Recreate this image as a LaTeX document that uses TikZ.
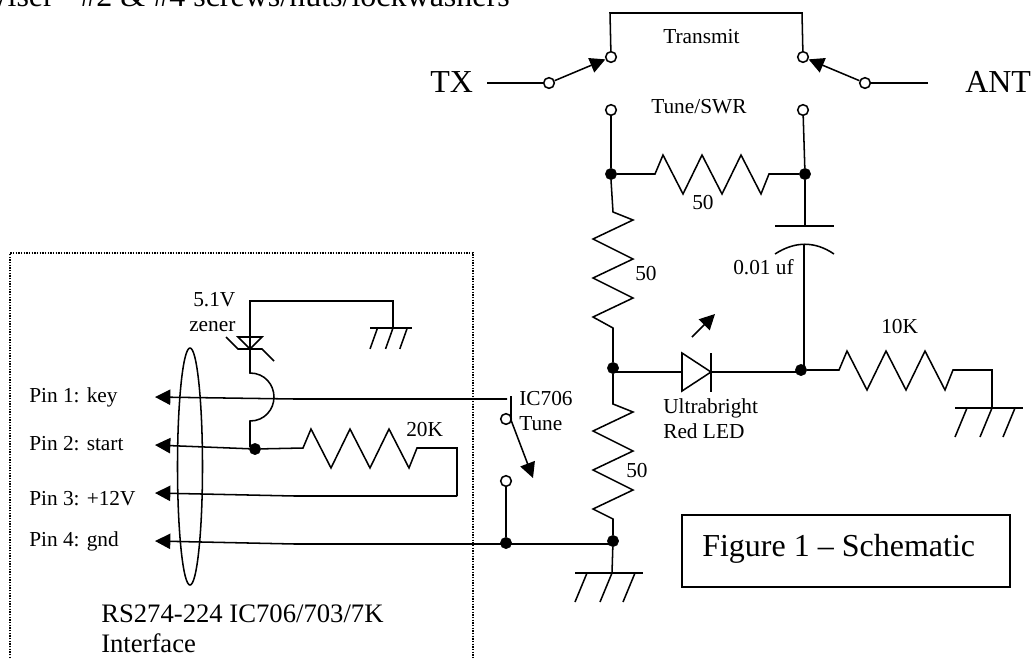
\documentclass[tikz,border=0pt]{standalone}
\usepackage{fontspec}
\setmainfont{Liberation Serif}
\usetikzlibrary{arrows.meta,shapes.geometric}

\tikzset{
    wire/.style={line width=1.15pt},
    smalltext/.style={anchor=base west,inner sep=0pt,font=\fontsize{16}{19}\selectfont},
    midtext/.style={anchor=base west,inner sep=0pt,font=\fontsize{20}{24}\selectfont},
    bigtext/.style={anchor=base west,inner sep=0pt,font=\fontsize{24}{29}\selectfont},
    dot/.style={circle,fill=black,draw=black,inner sep=0pt,minimum size=8.5pt},
    term/.style={circle,fill=white,draw=black,line width=1.15pt,inner sep=0pt,minimum size=8pt},
    tip/.style={-{Triangle[length=11.5pt,width=11.5pt]}},
    resh/.style={to path={-- ++(8,-19) -- ++(20,39) -- ++(19,-39) -- ++(20,39) -- ++(19,-39) -- ++(20,39) -- (\tikztotarget)}},
    resv/.style={to path={-- ++(20,8) -- ++(-40,19) -- ++(40,20) -- ++(-40,19) -- ++(40,20) -- ++(-40,19) -- (\tikztotarget)}},
    gnd/.pic={
        \draw[wire] (-37,0) -- (31,0);
        \draw[wire] (-25,0) -- (-37,29);
        \draw[wire] (0,0) -- (-12,29);
        \draw[wire] (23,0) -- (11,29);
    }
}

\begin{document}
\begin{tikzpicture}[x=0.75pt,y=-0.75pt]
    \useasboundingbox (0,0) rectangle (1031,658);
    % Text cut off at the top of the page
    \node[bigtext,anchor=base east] (parts) at (510,6) {Wiser - \#2 \& \#4 screws/nuts/lockwashers};
    % Antenna switches
    \node[bigtext] (tx) at (430,92) {TX};
    \node[bigtext] (ant) at (965,92) {ANT};
    \node[smalltext] (transmit) at (663,43) {Transmit};
    \node[smalltext] (tune) at (651,113) {Tune/SWR};
    \coordinate (txend) at (487,83);
    \coordinate (antend) at (928,83);
    \coordinate (bridgel) at (610,13);
    \coordinate (bridger) at (802,13);
    \node[term] (txpole) at (549,83) {};
    \node[term] (antpole) at (865,83) {};
    \node[term] (txthrow) at (611,57) {};
    \node[term] (antthrow) at (803,57) {};
    \node[term] (txtune) at (611,110) {};
    \node[term] (anttune) at (803,110) {};
    \draw[wire] (txend) -- (txpole);
    \draw[wire] (antend) -- (antpole);
    \draw[wire,tip] (txpole) -- (txthrow);
    \draw[wire,tip] (antpole) -- (antthrow);
    \draw[wire] (txthrow) -- (bridgel) -- (bridger) -- (antthrow);
    % Bridge resistors
    \node[dot] (jleft) at (611,174) {};
    \node[dot] (jright) at (805,174) {};
    \node[dot] (jmid) at (613,368) {};
    \node[dot] (jcap) at (801,370) {};
    \node[dot] (jgnd) at (613,541) {};
    \node[dot] (jtune) at (506,543) {};
    \coordinate (r1a) at (655,174);
    \coordinate (r1b) at (769,174);
    \coordinate (r2a) at (613,212);
    \coordinate (r2b) at (613,328);
    \coordinate (r3a) at (613,404);
    \coordinate (r3b) at (613,519);
    \draw[wire] (txtune) -- (jleft);
    \draw[wire] (anttune) -- (jright);
    \draw[wire] (jleft) -- (r1a) to[resh] (r1b) -- (jright);
    \draw[wire] (jleft.south) -- (r2a) to[resv] (r2b) -- (jmid);
    \draw[wire] (jmid) -- (r3a) to[resv] (r3b) -- (jgnd);
    \node[smalltext] (fifty1) at (692,209) {50};
    \node[smalltext] (fifty2) at (635,280) {50};
    \node[smalltext] (fifty3) at (626,477) {50};
    % Capacitor
    \coordinate (capt) at (805,226);
    \coordinate (capb) at (804,244);
    \coordinate (capbot) at (804,366);
    \coordinate (captl) at (775,226);
    \coordinate (captr) at (834,226);
    \coordinate (capbl) at (775,254);
    \coordinate (capbr) at (834,254);
    \draw[wire] (jright) -- (capt);
    \draw[wire] (captl) -- (captr);
    \draw[wire] (capbl) .. controls (795,241) and (815,241) .. (capbr);
    \draw[wire] (capb) -- (capbot);
    \node[smalltext] (capval) at (733,274) {0.01 uf};
    % LED
    \coordinate (ledin) at (613,372);
    \coordinate (ledout) at (801,372);
    \coordinate (leda) at (682,372);
    \coordinate (ledk) at (711,372);
    \coordinate (ledt) at (682,353);
    \coordinate (ledb) at (682,391);
    \coordinate (bart) at (711,353);
    \coordinate (barb) at (711,392);
    \coordinate (rays) at (692,337);
    \coordinate (raye) at (715,314);
    \draw[wire] (ledin) -- (leda);
    \draw[wire] (ledt) -- (ledb) -- (ledk) -- cycle;
    \draw[wire] (bart) -- (barb);
    \draw[wire] (ledk) -- (ledout);
    \draw[wire,tip] (rays) -- (raye);
    \node[smalltext] (led1) at (663,413) {Ultrabright};
    \node[smalltext] (led2) at (663,438) {Red LED};
    % 10K to ground
    \coordinate (r4a) at (839,370);
    \coordinate (r4b) at (953,370);
    \coordinate (g1corner) at (992,370);
    \coordinate (g1) at (992,408);
    \draw[wire] (jcap) -- (r4a) to[resh] (r4b) -- (g1corner) -- (g1);
    \pic at (g1) {gnd};
    \node[smalltext] (tenk) at (881,333) {10K};
    % Main ground
    \coordinate (g2) at (612,573);
    \draw[wire] (jgnd) -- (g2);
    \pic at (g2) {gnd};
    % Interface box
    \coordinate (boxbl) at (10,658);
    \coordinate (boxtl) at (10,253);
    \coordinate (boxtr) at (473,253);
    \coordinate (boxbr) at (473,658);
    \draw[line width=1pt,densely dotted] (boxbl) -- (boxtl) -- (boxtr) -- (boxbr);
    \node[draw,wire,ellipse,inner sep=0pt,minimum width=18.75pt,minimum height=177.75pt] (plug) at (190,466.5) {};
    % Pins
    \node[smalltext] (pin1) at (29,402) {Pin 1: key};
    \node[smalltext] (pin2) at (29,450) {Pin 2: start};
    \node[smalltext] (pin3) at (29,505) {Pin 3: +12V};
    \node[smalltext] (pin4) at (29,546) {Pin 4: gnd};
    \coordinate (tip1) at (155,397);
    \coordinate (tip2) at (155,445);
    \coordinate (tip3) at (155,493);
    \coordinate (tip4) at (155,541);
    \coordinate (bend1) at (295,399);
    \coordinate (bend3) at (295,496);
    \coordinate (bend4) at (295,544);
    \coordinate (gndwire) at (613,544);
    \node[dot] (jstart) at (255,449) {};
    \coordinate (r5a) at (303,448);
    \coordinate (r5b) at (417,448);
    \coordinate (r5c) at (457,448);
    \coordinate (r5d) at (457,496);
    \coordinate (swtop) at (511,396);
    \coordinate (swjoin) at (507,399);
    \draw[wire,tip] (swjoin) -- (bend1) -- (tip1);
    \draw[wire,tip] (jstart) -- (tip2);
    \draw[wire,tip] (r5d) -- (bend3) -- (tip3);
    \draw[wire,tip] (gndwire) -- (bend4) -- (tip4);
    \draw[wire] (jstart) -- (r5a) to[resh] (r5b) -- (r5c) -- (r5d);
    \node[smalltext] (twentyk) at (406,436) {20K};
    % Zener and wire hop
    \coordinate (zc) at (250,301);
    \coordinate (zg) at (393,301);
    \coordinate (g3) at (393,328);
    \coordinate (zl) at (238,337);
    \coordinate (zr) at (262,337);
    \coordinate (zk) at (250,349);
    \coordinate (zbl) at (238,349);
    \coordinate (zbr) at (262,349);
    \coordinate (ztl) at (226,337);
    \coordinate (ztr) at (274,361);
    \coordinate (hopt) at (250,373);
    \coordinate (hopm) at (274,397);
    \coordinate (hopb) at (250,421);
    \coordinate (hopend) at (250,447);
    \draw[wire] (zk) -- (zc) -- (zg) -- (g3);
    \pic[xscale=.62,yscale=.72] at (g3) {gnd};
    \draw[wire] (zl) -- (zr) -- (zk) -- cycle;
    \draw[wire] (ztl) -- (zbl) -- (zbr) -- (ztr);
    \draw[wire] (zk) -- (hopt) .. controls (265,373) and (274,385) .. (hopm)
        .. controls (274,409) and (265,421) .. (hopb) -- (hopend);
    \node[smalltext] (zener1) at (193,306) {5.1V};
    \node[smalltext] (zener2) at (189,331) {zener};
    % IC706 tune switch
    \node[smalltext] (ic1) at (519,405) {IC706};
    \node[smalltext] (ic2) at (519,430) {Tune};
    \node[term] (swup) at (506,419) {};
    \node[term] (swlow) at (506,481) {};
    \coordinate (swarm) at (511,420);
    \coordinate (swtip) at (533,478);
    \draw[wire] (swtop) -- (swarm);
    \draw[wire,tip] (swarm) -- (swtip);
    \draw[wire] (swlow) -- (jtune);
    % Interface caption
    \node[midtext] (iface1) at (101,622) {RS274-224 IC706/703/7K};
    \node[midtext] (iface2) at (101,652) {Interface};
    % Figure box
    \node[draw,wire,inner sep=0pt,minimum width=246pt,minimum height=54pt] (figbox) at (846,551) {};
    \node[bigtext] (figtext) at (702,556) {Figure 1 – Schematic};
\end{tikzpicture}
\end{document}
